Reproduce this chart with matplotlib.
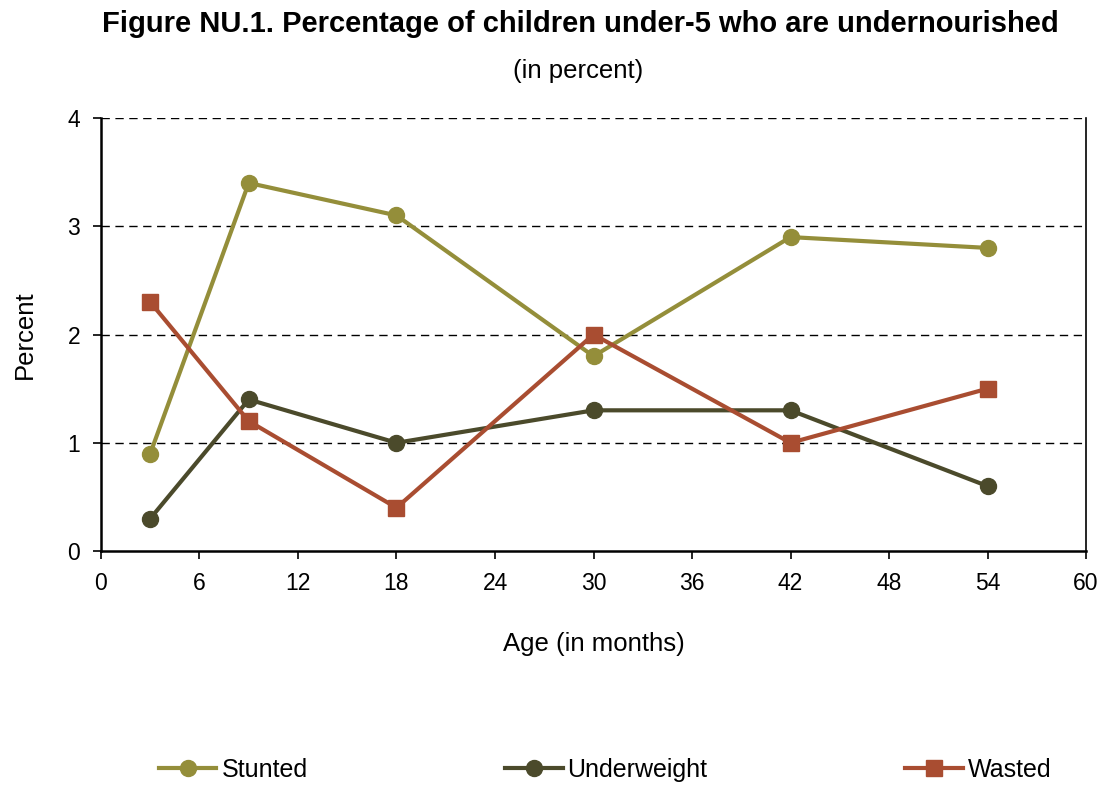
import matplotlib
matplotlib.use("Agg")
import matplotlib.pyplot as plt

plt.rcParams['font.family'] = ['Liberation Sans', 'DejaVu Sans']

ages = [3, 9, 18, 30, 42, 54]
stunted = [0.9, 3.4, 3.1, 1.8, 2.9, 2.8]
underweight = [0.3, 1.4, 1.0, 1.3, 1.3, 0.6]
wasted = [2.3, 1.2, 0.4, 2.0, 1.0, 1.5]
x_ticks = [0, 6, 12, 18, 24, 30, 36, 42, 48, 54, 60]
y_ticks = [0, 1, 2, 3, 4]

fig = plt.figure(figsize=(11, 7.85), dpi=100)
ax = fig.add_axes([0.0918, 0.298, 0.8955, 0.5517])

ax.plot(ages, stunted, color='#948E3A', lw=3, marker='o', ms=11.5, label='Stunted', zorder=3)
ax.plot(ages, underweight, color='#4B4A2B', lw=3, marker='o', ms=11.5, label='Underweight', zorder=3)
ax.plot(ages, wasted, color='#A94D31', lw=3, marker='s', ms=12, label='Wasted', zorder=3)

ax.set_xlim(0, 60)
ax.set_ylim(0, 4)
ax.set_xticks(x_ticks)
ax.set_yticks(y_ticks)
ax.tick_params(direction='out', length=6, width=1.2, labelsize=16.5, pad=9)
for yv in y_ticks[1:]:
    ax.axhline(yv, color='black', lw=1, ls=(0, (6, 4)), zorder=1)

ax.spines['top'].set_visible(False)
ax.spines['left'].set_linewidth(1.8)
ax.spines['bottom'].set_linewidth(1.8)
ax.spines['right'].set_linewidth(1.2)

ax.set_xlabel('Age (in months)', fontsize=18.5, labelpad=27)
ax.set_ylabel('Percent', fontsize=18.5, labelpad=22)

fig.text(0.528, 0.970, 'Figure NU.1. Percentage of children under-5 who are undernourished',
         ha='center', va='center', fontsize=21, fontweight='bold')
fig.text(0.526, 0.909, '(in percent)', ha='center', va='center', fontsize=18.5)

fig.legend(loc='center', bbox_to_anchor=(0.550, 0.019), ncol=3, frameon=False,
           fontsize=18, handlelength=2.3, handletextpad=0.2, columnspacing=7.9,
           markerscale=1.0)

fig.savefig('out.png', dpi=100)
